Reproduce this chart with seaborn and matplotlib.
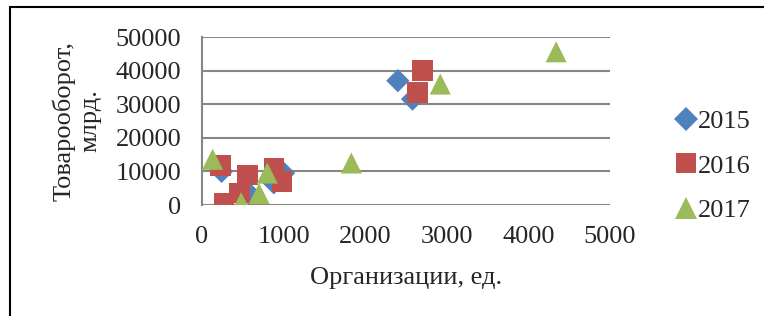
import matplotlib.pyplot as plt
import matplotlib.patches as mpatches
import seaborn as sns
import pandas as pd

# values
x_2015 = [2400, 2580, 240, 880, 1000, 570]
y_2015 = [37000, 31500, 10000, 6600, 9500, 3600]
x_2016 = [2700, 2640, 230, 560, 880, 980, 460, 270]
y_2016 = [40000, 33500, 11800, 8900, 11000, 7000, 3600, 500]
x_2017 = [130, 1830, 800, 700, 480, 2920, 4340]
y_2017 = [13600, 12500, 9500, 3400, 700, 36000, 45600]

years = ['2015', '2016', '2017']
colors = ['#4F81BD', '#C0504D', '#9BBB59']
markers = ['D', 's', '^']
msizes = [140, 220, 230]

frames = []
for yr, xs, ys in zip(years, [x_2015, x_2016, x_2017], [y_2015, y_2016, y_2017]):
    frames.append(pd.DataFrame({'org': xs, 'turnover': ys, 'year': yr}))
df = pd.concat(frames, ignore_index=True)

sns.set_style('white')
plt.rcParams['font.family'] = ['Liberation Serif', 'DejaVu Serif']
fs = 19

fig = plt.figure(figsize=(7.64, 3.16), dpi=100)
ax = fig.add_axes([202 / 764, 1 - 205 / 316, 408 / 764, 168 / 316])

sns.scatterplot(data=df, x='org', y='turnover', hue='year', style='year', size='year',
                palette=dict(zip(years, colors)), markers=dict(zip(years, markers)),
                sizes=dict(zip(years, msizes)), linewidth=0, alpha=1, ax=ax, zorder=3)

ax.set_xlim(0, 5000)
ax.set_ylim(0, 50000)
ax.set_xticks(range(0, 5001, 1000))
ax.set_yticks(range(0, 50001, 10000))
ax.yaxis.grid(True, color='#868686', linewidth=1.5)
ax.set_axisbelow(True)
for side in ['top', 'right', 'bottom']:
    ax.spines[side].set_visible(False)
ax.spines['left'].set_color('#868686')
ax.spines['left'].set_linewidth(1.5)
ax.tick_params(axis='y', length=3, color='#868686', width=1.5, labelsize=fs, pad=12)
ax.tick_params(axis='x', length=0, labelsize=fs, pad=15)
ax.set_xlabel('Организации, ед.', fontsize=fs, labelpad=14)
ax.set_ylabel('Товарооборот,\nмлрд.', fontsize=fs, labelpad=10, linespacing=1.25)

handles, labels = ax.get_legend_handles_labels()
ax.legend(handles, labels, loc='center left', bbox_to_anchor=(664 / 764, 1 - 166 / 316),
          bbox_transform=fig.transFigure, frameon=False, fontsize=fs,
          handlelength=0.7, handletextpad=0.1, labelspacing=0.8, borderpad=0)

fig.patches.append(mpatches.Rectangle((10 / 764, -0.1), 1.0, 1 - 7 / 316 + 0.1,
                                      transform=fig.transFigure, fill=False,
                                      edgecolor='black', linewidth=1.5))

fig.savefig('out.png', dpi=100)
